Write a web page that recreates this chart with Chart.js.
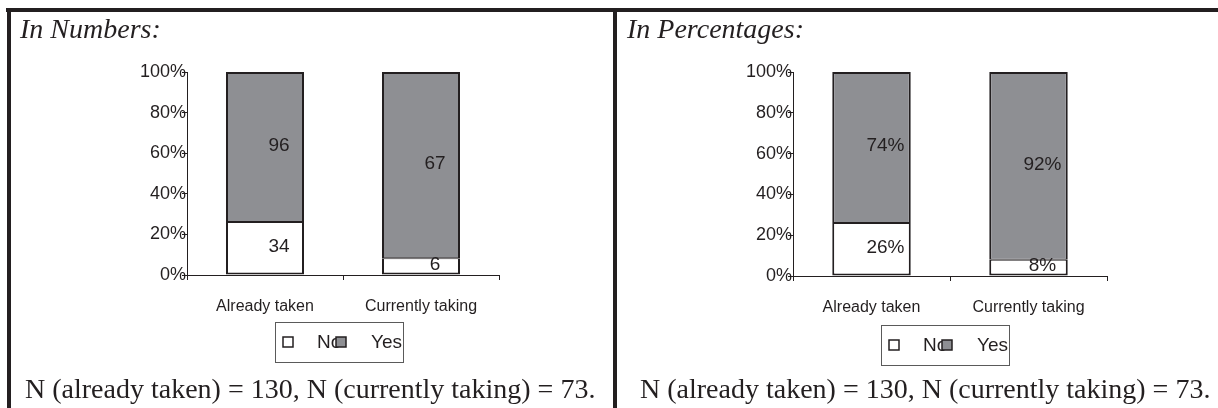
<!DOCTYPE html>
<html>
<head>
<meta charset="utf-8">
<title>Already taken vs currently taking</title>
<script src="https://cdn.jsdelivr.net/npm/chart.js@4.4.1/dist/chart.umd.min.js"></script>
<style>
  html, body { margin: 0; padding: 0; background: #ffffff; }
  #page { position: relative; width: 1218px; height: 408px; overflow: hidden; background: #ffffff; }
  .rule { position: absolute; background: #231f20; }
  .title {
    position: absolute; margin: 0; white-space: nowrap; color: #231f20;
    font-family: "Liberation Serif", "Times New Roman", serif; font-style: italic; font-size: 28px; line-height: 30px;
  }
  .note {
    position: absolute; margin: 0; white-space: nowrap; color: #231f20;
    font-family: "Liberation Serif", "Times New Roman", serif; font-size: 28px; line-height: 30px;
  }
  canvas { position: absolute; top: 0; }
</style>
</head>
<body>
<div id="page">
  <canvas id="numbers" width="612" height="408" style="left:0px"></canvas>
  <canvas id="percentages" width="601" height="408" style="left:617px"></canvas>

  <div class="rule" style="left:6px; top:8px; width:1212px; height:4px;"></div>
  <div class="rule" style="left:7px; top:8px; width:4px; height:400px;"></div>
  <div class="rule" style="left:613px; top:8px; width:4px; height:400px;"></div>

  <p class="title" style="left:20px; top:14px;">In Numbers:</p>
  <p class="title" style="left:627px; top:14px;">In Percentages:</p>

  <p class="note" style="left:25px; top:374px;">N (already taken) = 130, N (currently taking) = 73.</p>
  <p class="note" style="left:640px; top:374px;">N (already taken) = 130, N (currently taking) = 73.</p>
</div>

<script>
// Categories, series and values
const categories = ['Already taken', 'Currently taking'];
const seriesNames = ['No', 'Yes'];
const countNo = [34, 6];
const countYes = [96, 67];
const percentNo = [26, 8];
const percentYes = [74, 92];
const yTickValues = [0, 20, 40, 60, 80, 100];
const yTickLabels = ['0%', '20%', '40%', '60%', '80%', '100%'];

const INK = '#231f20';
const YES_FILL = '#8e8f93';
const NO_FILL = '#ffffff';
const SANS = '"Liberation Sans", Arial, sans-serif';

// Writes each segment's own value label inside it
const valueLabels = {
  id: 'valueLabels',
  afterDatasetsDraw(chart, args, opts) {
    const ctx = chart.ctx;
    ctx.save();
    ctx.font = opts.font;
    ctx.fillStyle = opts.color;
    ctx.textAlign = 'center';
    ctx.textBaseline = 'middle';
    chart.data.datasets.forEach((ds, i) => {
      const meta = chart.getDatasetMeta(i);
      meta.data.forEach((bar, j) => {
        const p = bar.getProps(['x', 'y', 'base'], true);
        ctx.fillText(ds.valueText[j], p.x + opts.shiftX, (p.y + p.base) / 2 + opts.shiftY);
      });
    });
    ctx.restore();
  }
};

// Boxed legend below the category labels
const boxLegend = {
  id: 'boxLegend',
  afterDraw(chart, args, opts) {
    const ctx = chart.ctx;
    const bx = chart.chartArea.left + opts.offsetX;
    const by = opts.top;
    ctx.save();
    ctx.strokeStyle = '#5a5a5a';
    ctx.lineWidth = 1;
    ctx.strokeRect(bx + 0.5, by + 0.5, opts.width, opts.height);
    ctx.font = opts.font;
    ctx.textBaseline = 'middle';
    ctx.textAlign = 'left';
    const cy = by + opts.height / 2;
    opts.items.forEach((it, i) => {
      const ds = chart.data.datasets[i];
      ctx.fillStyle = ds.backgroundColor;
      ctx.fillRect(bx + it.marker, cy - 5, 10, 10);
      ctx.strokeStyle = INK;
      ctx.lineWidth = 1.5;
      ctx.strokeRect(bx + it.marker, cy - 5, 10, 10);
      ctx.fillStyle = INK;
      ctx.fillText(ds.label, bx + it.text, cy + 1);
    });
    ctx.restore();
  }
};

function buildChart(canvasId, area, noValues, yesValues, noText, yesText, legendTop) {
  const canvas = document.getElementById(canvasId);
  const W = canvas.width, H = canvas.height;
  const yAxisWidth = 60, xAxisHeight = 40;
  return new Chart(canvas, {
    type: 'bar',
    data: {
      labels: categories,
      datasets: [
        { label: seriesNames[0], data: noValues, valueText: noText, backgroundColor: NO_FILL,
          borderWidth: { top: 1, bottom: 2, left: 2, right: 2 } },
        { label: seriesNames[1], data: yesValues, valueText: yesText, backgroundColor: YES_FILL,
          borderWidth: { top: 2, bottom: 1, left: 2, right: 2 } }
      ]
    },
    options: {
      responsive: false,
      animation: false,
      devicePixelRatio: 1,
      layout: {
        padding: {
          left: area.left - yAxisWidth,
          right: W - area.right,
          top: area.top,
          bottom: H - area.bottom - xAxisHeight
        }
      },
      datasets: {
        bar: {
          borderColor: INK,
          borderSkipped: false,
          categoryPercentage: 1,
          barPercentage: 0.5
        }
      },
      scales: {
        x: {
          stacked: true,
          offset: true,
          afterFit(s) { s.height = xAxisHeight; },
          grid: { display: true, drawOnChartArea: false, drawTicks: true, tickLength: 5, offset: true, color: INK, lineWidth: 1 },
          border: { display: true, color: INK, width: 1 },
          ticks: { color: INK, font: { family: SANS, size: 16 }, padding: 17, maxRotation: 0 }
        },
        y: {
          stacked: true,
          min: 0,
          max: 100,
          afterFit(s) { s.width = yAxisWidth; },
          afterBuildTicks(s) { s.ticks = yTickValues.map(v => ({ value: v })); },
          grid: { display: true, drawOnChartArea: false, drawTicks: true, tickLength: 5, color: INK, lineWidth: 1 },
          border: { display: true, color: INK, width: 1 },
          ticks: {
            color: INK,
            font: { family: SANS, size: 18 },
            padding: -4,
            callback: (v) => yTickLabels[yTickValues.indexOf(v)]
          }
        }
      },
      plugins: {
        legend: { display: false },
        tooltip: { enabled: false },
        valueLabels: { font: '19px ' + SANS, color: INK, shiftX: 14, shiftY: -1.5 },
        boxLegend: {
          offsetX: 88, top: legendTop, width: 128, height: 40, font: '19px ' + SANS,
          items: [ { marker: 8, text: 42 }, { marker: 61, text: 96 } ]
        }
      }
    },
    plugins: [valueLabels, boxLegend]
  });
}

// Counts are stacked as shares of each category's total
const totals = countNo.map((v, i) => v + countYes[i]);
const shareNo = countNo.map((v, i) => v / totals[i] * 100);
const shareYes = countYes.map((v, i) => v / totals[i] * 100);

buildChart('numbers', { left: 187, right: 499, top: 72, bottom: 275 },
  shareNo, shareYes, countNo.map(String), countYes.map(String), 322);

buildChart('percentages', { left: 176, right: 490, top: 72, bottom: 276 },
  percentNo, percentYes, percentNo.map(v => v + '%'), percentYes.map(v => v + '%'), 325);
</script>
</body>
</html>
